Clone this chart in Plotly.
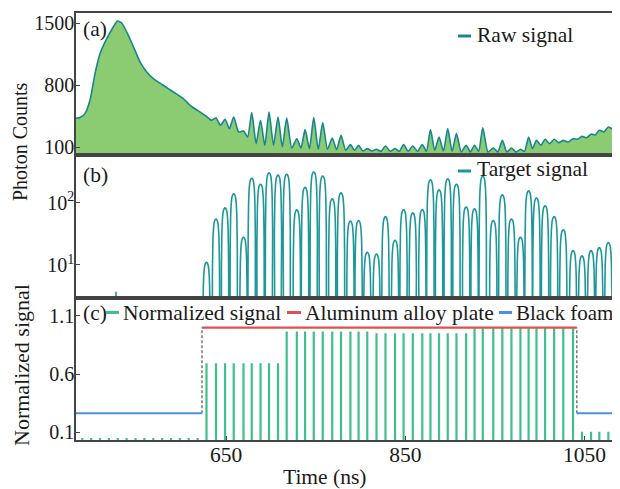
import plotly.graph_objects as go
from plotly.subplots import make_subplots

# ---------------- data ----------------
T_START, T_END = 482.6, 1089.6          # visible time window (ns)

# pulse centre times (ns)
PULSE_T = [628.2, 638.8, 648.9, 658.6, 669.5, 678.7, 688.5, 698.0, 708.0, 717.7,
           729.0, 738.2, 747.9, 757.9, 768.5, 778.3, 788.8, 797.9, 807.6, 817.9,
           827.9, 838.6, 848.1, 858.4, 869.0, 878.1, 887.7, 897.4, 907.1, 917.9,
           927.3, 936.5, 948.2, 958.3, 968.5, 978.5, 987.6, 996.4, 1006.0, 1016.1,
           1026.3, 1037.2, 1047.2, 1057.3, 1066.5, 1076.6, 1086.6]

# (a) raw signal: leading hump, then valley / peak levels around each pulse
HUMP_T = [482.6, 487.1, 492.6, 498.2, 503.8, 509.4, 516.9, 524.2, 528.7, 533.6,
          541.0, 548.4, 554.0, 561.5, 568.9, 580.0, 591.2, 602.3, 609.8]
HUMP_V = [424, 432, 477, 627, 929, 1154, 1324, 1455, 1523, 1500,
          1361, 1191, 1060, 947, 872, 797, 721, 646, 571]
RAW_VALLEY = [480, 401, 345, 307, 270, 213, 138, 119, 119, 100,
              89, 89, 82, 74, 74, 70, 63, 63, 55, 55,
              51, 51, 51, 51, 51, 51, 63, 55, 51, 44,
              44, 51, 44, 44, 44, 44, 51, 82, 119, 138,
              149, 157, 187, 205, 235, 270, 305, 345]
RAW_PEAK = [445, 427, 413, 439, 282, 488, 401, 495, 439, 427,
            194, 296, 432, 375, 202, 232, 127, 119, 82, 74,
            112, 82, 127, 112, 129, 296, 213, 307, 251, 119,
            119, 318, 89, 175, 89, 74, 213, 175, 187, 187,
            175, 194, 220, 245, 290, 325, 360]

# (b) target signal peak heights (photon counts)
TARGET_PEAK = [11, 55, 83, 140, 28, 250, 200, 305, 280, 290,
               77, 178, 315, 270, 116, 145, 51, 52, 16, 15,
               60, 25, 78, 69, 78, 235, 162, 245, 200, 86,
               80, 270, 52, 135, 55, 28, 156, 120, 90, 60,
               37, 17, 14, 17, 19, 23, 30]
# shape of one target pulse (offset in ns, fraction of peak)
PULSE_DT = [-4.4, -4.0, -3.5, -3.0, -2.0, -1.0, 0.0, 1.0, 2.0, 3.0, 3.5, 4.0, 4.4]
PULSE_F = [0.002, 0.12, 0.40, 0.62, 0.88, 0.97, 1.0, 0.97, 0.88, 0.62, 0.40, 0.12, 0.002]
SPIKE_T = [527.2]
SPIKE_V = [3.7]
SPIKE_DT = [-0.6, 0.0, 0.6]
SPIKE_F = [0.2, 1.0, 0.2]

# (c) normalized signal
NORM = [0.694, 0.694, 0.694, 0.694, 0.694, 0.694, 0.694, 0.694, 0.694, 0.966,
        0.966, 0.966, 0.966, 0.966, 0.966, 0.966, 0.966, 0.966, 0.966, 0.95,
        0.95, 0.95, 0.95, 0.95, 0.95, 0.95, 0.95, 0.95, 0.95, 0.95,
        0.996, 0.996, 0.996, 0.996, 0.996, 0.996, 0.996, 0.996, 0.996, 0.996,
        0.996, 0.996, 0.104, 0.104, 0.104, 0.104, 0.104]
EARLY_T = [489.6, 499.5, 509.4, 519.3, 529.2, 539.1, 549.0, 558.9, 568.8, 578.7,
           588.6, 598.5, 608.4, 618.3]
EARLY_NORM = [0.05, 0.05, 0.05, 0.05, 0.05, 0.05, 0.05, 0.05, 0.05, 0.05,
              0.05, 0.05, 0.05, 0.05]
BOUNDARY_T = [623.2, 1041.4]
ALUMINUM_LEVEL = 1.0
FOAM_LEVEL = 0.263

# ---------------- styles ----------------
FONT = "Liberation Serif"
TXT = "#1a1a1a"
AX = "#444444"
RAW_LINE = "#17868f"
RAW_FILL = "#8bcb72"
TGT_LINE = "#1e9798"
GREEN = "#3fbf8c"
RED = "#e0504f"
BLUE = "#4a90e2"

fig = make_subplots(rows=3, cols=1, shared_xaxes=True, vertical_spacing=0)

# (a) raw signal
valley_t = [PULSE_T[0] - 5.0] + [(a + b) / 2 for a, b in zip(PULSE_T[:-1], PULSE_T[1:])] + [T_END]
raw_t, raw_v = list(HUMP_T), list(HUMP_V)
for i, (t, p) in enumerate(zip(PULSE_T, RAW_PEAK)):
    raw_t += [valley_t[i], t]
    raw_v += [RAW_VALLEY[i], p]
raw_t.append(valley_t[-1])
raw_v.append(RAW_VALLEY[-1])
fig.add_trace(go.Scatter(x=raw_t, y=raw_v, mode="lines", name="Raw signal",
                         line=dict(color=RAW_LINE, width=1.6, shape="spline", smoothing=0.6),
                         fill="tozeroy", fillcolor=RAW_FILL), row=1, col=1)

# (b) target signal
tt, tv = [], []
for t, p in zip(PULSE_T, TARGET_PEAK):
    for dt, f in zip(PULSE_DT, PULSE_F):
        tt.append(t + dt)
        tv.append(p * f)
fig.add_trace(go.Scatter(x=tt, y=tv, mode="lines", name="Target signal",
                         line=dict(color=TGT_LINE, width=1.6, shape="spline", smoothing=0.6)),
              row=2, col=1)
st, sv = [], []
for t, p in zip(SPIKE_T, SPIKE_V):
    for dt, f in zip(SPIKE_DT, SPIKE_F):
        st.append(t + dt)
        sv.append(p * f)
fig.add_trace(go.Scatter(x=st, y=sv, mode="lines", showlegend=False,
                         line=dict(color=TGT_LINE, width=1.6)), row=2, col=1)

# (c) normalized signal stems
sx, sy = [], []
for t, v in list(zip(EARLY_T, EARLY_NORM)) + list(zip(PULSE_T, NORM)):
    sx += [t, t, None]
    sy += [0, v, None]
fig.add_trace(go.Scatter(x=sx, y=sy, mode="lines", name="Normalized signal",
                         line=dict(color=GREEN, width=2.2)), row=3, col=1)
fig.add_trace(go.Scatter(x=[BOUNDARY_T[0], BOUNDARY_T[0], None, BOUNDARY_T[1], BOUNDARY_T[1]],
                         y=[FOAM_LEVEL, ALUMINUM_LEVEL, None, FOAM_LEVEL, ALUMINUM_LEVEL],
                         mode="lines", showlegend=False,
                         line=dict(color="#777777", width=1.5, dash="3px,2px")), row=3, col=1)
fig.add_trace(go.Scatter(x=[T_START, BOUNDARY_T[0], None, BOUNDARY_T[1], T_END],
                         y=[FOAM_LEVEL, FOAM_LEVEL, None, FOAM_LEVEL, FOAM_LEVEL],
                         mode="lines", name="Black foam",
                         line=dict(color=BLUE, width=2)), row=3, col=1)
fig.add_trace(go.Scatter(x=[BOUNDARY_T[0], BOUNDARY_T[1]],
                         y=[ALUMINUM_LEVEL, ALUMINUM_LEVEL],
                         mode="lines", name="Aluminum alloy plate",
                         line=dict(color=RED, width=2.2)), row=3, col=1)

# ---------------- axes ----------------
common_x = dict(range=[T_START, T_END], showline=True, linecolor=AX, linewidth=1.5,
                mirror=True, showgrid=False, zeroline=False)
fig.update_xaxes(**common_x)
fig.update_xaxes(showticklabels=False, ticks="", row=1, col=1)
fig.update_xaxes(showticklabels=False, ticks="", row=2, col=1)
fig.update_xaxes(tickvals=[650, 850, 1050], ticks="inside", ticklen=4, tickcolor=AX,
                 tickfont=dict(family=FONT, size=21.5, color=TXT), row=3, col=1)

common_y = dict(showline=True, linecolor=AX, linewidth=1.5, mirror=False, showgrid=False,
                zeroline=False, ticks="inside", ticklen=4, tickcolor=AX,
                tickfont=dict(family=FONT, size=20, color=TXT))
fig.update_yaxes(**common_y)
fig.update_yaxes(range=[6, 1613], tickvals=[100, 800, 1500], row=1, col=1)
fig.update_yaxes(type="log", range=[0.473, 2.766], tickvals=[10, 100],
                 ticktext=["10<sup>1</sup>", "10<sup>2</sup>"], row=2, col=1)
fig.update_yaxes(range=[0.033, 1.257], tickvals=[0.1, 0.6, 1.1],
                 ticktext=["0.1", "0.6", "1.1"], row=3, col=1)
try:
    fig.update_yaxes(ticklabelstandoff=-4)
    fig.update_xaxes(ticklabelstandoff=-6, row=3, col=1)
except Exception:
    pass

# ---------------- text / legends ----------------
# reference page coordinates; the page body adds an 8px margin
OFF = 8
L, R, T, B = 76, 620, 13, 440
FIG_W, FIG_H = 620 - OFF, 489 - OFF


def px(x):
    return (x - L) / (R - L)


def py(y):
    return (B - y) / (B - T)


annos = []
shapes = []


def text(x, y, s, size=21.5, xanchor="left", angle=0):
    annos.append(dict(x=px(x), y=py(y), xref="paper", yref="paper", text=s, showarrow=False,
                      xanchor=xanchor, yanchor="middle", textangle=angle,
                      font=dict(family=FONT, size=size, color=TXT)))


def dash(x0, x1, y, color):
    shapes.append(dict(type="line", xref="paper", yref="paper", x0=px(x0), x1=px(x1),
                       y0=py(y), y1=py(y), line=dict(color=color, width=3)))


text(81, 29, "(a)")
text(81, 175, "(b)")
text(81, 313, "(c)")

dash(458, 471, 36, RAW_LINE)
text(475, 35, "Raw signal")
dash(458, 471, 171, TGT_LINE)
text(475, 169, "Target signal")

dash(106, 119, 312.5, GREEN)
text(121, 312.5, "Normalized signal")
dash(287, 301, 312.5, RED)
text(303, 312.5, "Aluminum alloy plate")
dash(499, 512, 312.5, BLUE)
text(514, 312.5, "Black foam", size=21)

text(20, 142, "Photon Counts", size=20, xanchor="center", angle=-90)
text(21, 365, "Normalized signal", size=22, xanchor="center", angle=-90)
text(324, 477, "Time (ns)", size=21.5, xanchor="center")

fig.update_layout(width=FIG_W, height=FIG_H,
                  margin=dict(l=L - OFF, r=FIG_W - (R - OFF), t=T - OFF, b=FIG_H - (B - OFF)),
                  paper_bgcolor="white", plot_bgcolor="white", showlegend=False,
                  annotations=annos, shapes=shapes,
                  font=dict(family=FONT, color=TXT))

fig.write_html("out.html")
